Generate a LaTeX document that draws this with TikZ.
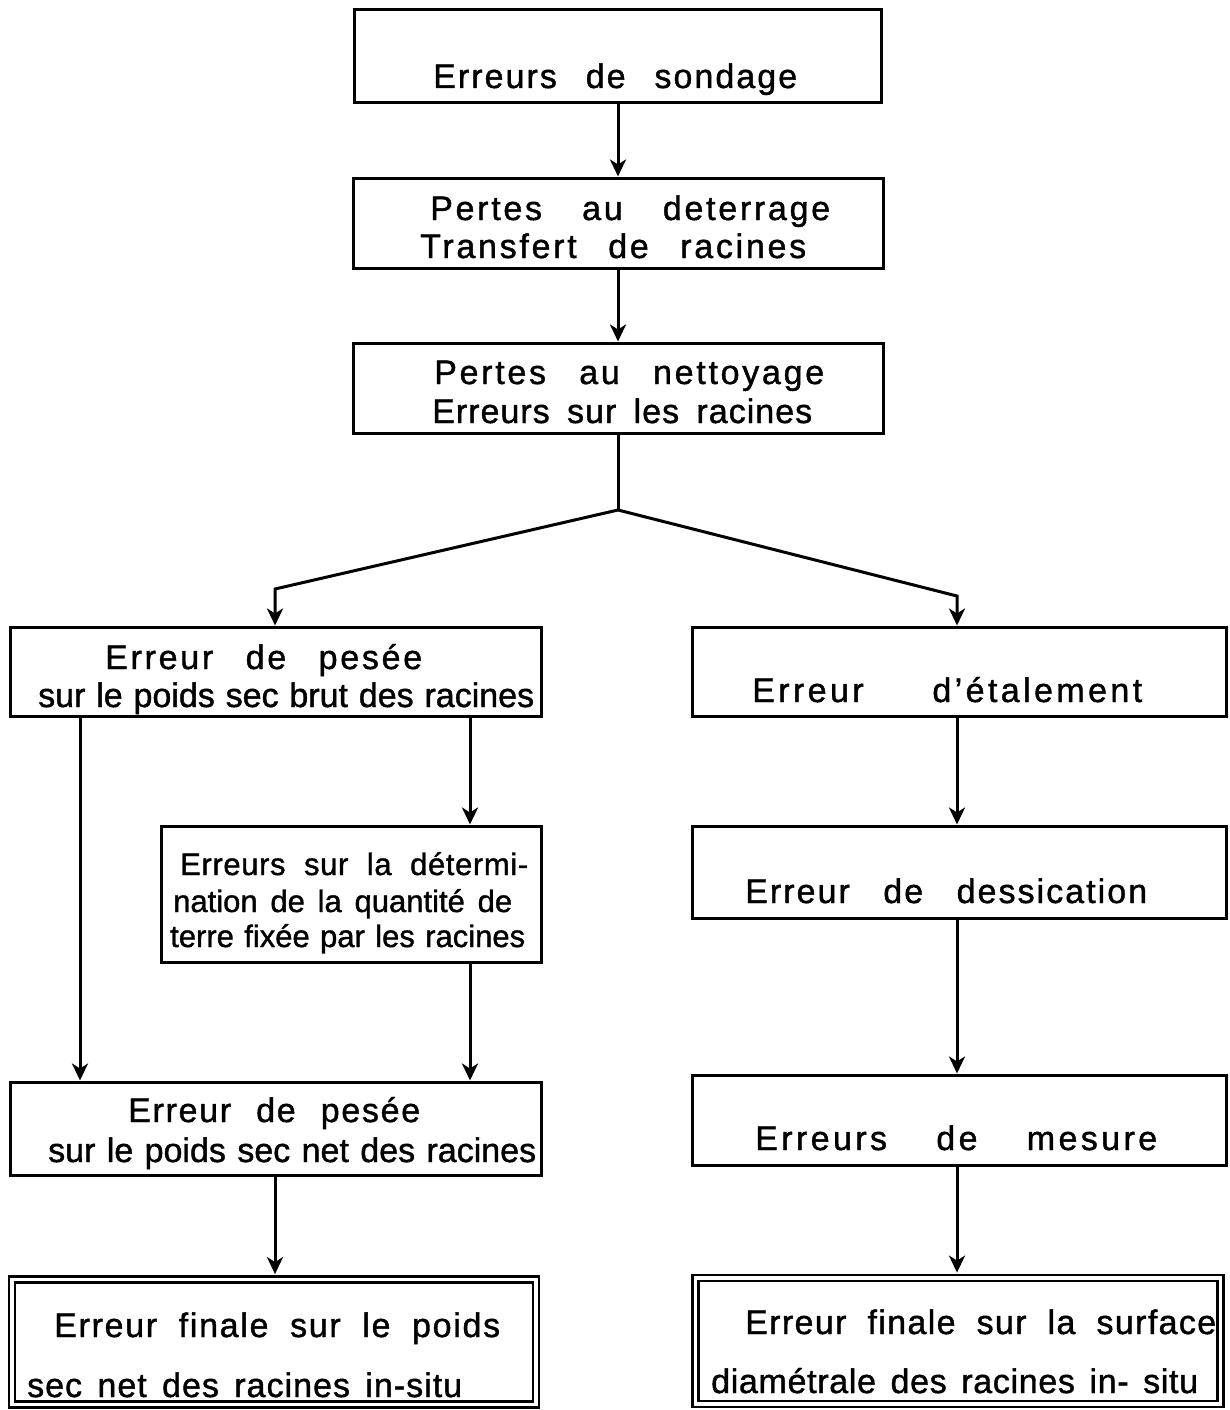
\documentclass[tikz,border=0pt]{standalone}
\usepackage{fontspec}
\setmainfont[FakeBold=1.2]{Liberation Sans}
\usetikzlibrary{arrows.meta}
\newcommand{\spreadtxt}[3]{\makebox[#1][s]{\addfontfeatures{LetterSpace=#2}#3}}
\begin{document}
\begin{tikzpicture}[x=1pt,y=-1pt,
  box/.style={draw,line width=3pt,inner sep=0pt},
  dbox/.style={draw,line width=2.8pt,double,double distance=3.2pt,inner sep=0pt},
  txt/.style={anchor=base west,inner sep=0pt,font=\fontsize{34}{40}\selectfont},
  txts/.style={anchor=base west,inner sep=0pt,font=\fontsize{31}{36}\selectfont},
  ln/.style={line width=3pt},
  arr/.style={line width=3pt,-{Stealth[length=17pt,width=16pt,inset=5pt]}}]
\useasboundingbox (0,0) rectangle (1229,1410);
% boxes
\node[box,minimum width=527pt,minimum height=93pt] (b1) at (618,56.5) {};
\node[box,minimum width=530pt,minimum height=90pt] (b2) at (618,223) {};
\node[box,minimum width=530pt,minimum height=90pt] (b3) at (618,388) {};
\node[box,minimum width=531pt,minimum height=89pt] (b4) at (275.5,671.5) {};
\node[box,minimum width=534pt,minimum height=89pt] (b5) at (959,671.5) {};
\node[box,minimum width=380pt,minimum height=136pt] (b6) at (351,894) {};
\node[box,minimum width=534pt,minimum height=92pt] (b7) at (959,872) {};
\node[box,minimum width=531pt,minimum height=93pt] (b8) at (275.5,1128.5) {};
\node[box,minimum width=534pt,minimum height=90pt] (b9) at (959,1120) {};
\node[dbox,minimum width=524pt,minimum height=125pt] (b10) at (274,1342) {};
\node[dbox,minimum width=525pt,minimum height=126pt] (b11) at (958,1341) {};
% texts
\node[txt] (t1) at (433,88) {\spreadtxt{364pt}{6}{Erreurs de sondage}};
\node[txt] (t2a) at (430,220) {\spreadtxt{400pt}{8}{Pertes au deterrage}};
\node[txt] (t2b) at (420,258) {\spreadtxt{386pt}{8}{Transfert de racines}};
\node[txt] (t3a) at (434,384) {\spreadtxt{390pt}{8}{Pertes au nettoyage}};
\node[txt] (t3b) at (432,423) {\spreadtxt{380pt}{3}{Erreurs sur les racines}};
\node[txt] (t4a) at (105,669) {\spreadtxt{317pt}{8}{Erreur de pesée}};
\node[txt] (t4b) at (38,707) {\spreadtxt{496pt}{0}{sur le poids sec brut des racines}};
\node[txt] (t5) at (752,702) {\spreadtxt{390pt}{10}{Erreur d'étalement}};
\node[txts] (t6a) at (180,875) {\spreadtxt{348pt}{2}{Erreurs sur la détermi-}};
\node[txts] (t6b) at (173,912) {\spreadtxt{339pt}{0}{nation de la quantité de}};
\node[txts] (t6c) at (170,947) {\spreadtxt{355pt}{0}{terre fixée par les racines}};
\node[txt] (t7) at (745,903) {\spreadtxt{402pt}{6}{Erreur de dessication}};
\node[txt] (t8a) at (128,1122) {\spreadtxt{292pt}{5}{Erreur de pesée}};
\node[txt] (t8b) at (48,1162) {\spreadtxt{488pt}{0}{sur le poids sec net des racines}};
\node[txt] (t9) at (755,1150) {\spreadtxt{402pt}{10}{Erreurs de mesure}};
\node[txt] (t10a) at (54,1337) {\spreadtxt{446pt}{5}{Erreur finale sur le poids}};
\node[txt] (t10b) at (27,1397) {\spreadtxt{435pt}{3}{sec net des racines in-situ}};
\node[txt] (t11a) at (745,1334) {\spreadtxt{471pt}{4}{Erreur finale sur la surface}};
\node[txt] (t11b) at (711,1393) {\spreadtxt{487pt}{2}{diamétrale des racines in- situ}};
% connector points
\coordinate (j) at (618,510);
\coordinate (jl) at (275,589);
\coordinate (jr) at (957,596);
\coordinate (xa) at (80,0);
\coordinate (xb) at (470,0);
\coordinate (xc) at (957,0);
% connectors
\draw[arr] (b1.south) -- (b2.north);
\draw[arr] (b2.south) -- (b3.north);
\draw[ln] (b3.south) -- (j);
\draw[arr] (j) -- (jl) -- (jl |- b4.north);
\draw[arr] (j) -- (jr) -- (jr |- b5.north);
\draw[arr] (b4.south -| xa) -- (b8.north -| xa);
\draw[arr] (b4.south -| xb) -- (b6.north -| xb);
\draw[arr] (b6.south -| xb) -- (b8.north -| xb);
\draw[arr,shorten >=4pt] (b8.south -| jl) -- (b10.north -| jl);
\draw[arr] (b5.south -| xc) -- (b7.north -| xc);
\draw[arr] (b7.south -| xc) -- (b9.north -| xc);
\draw[arr,shorten >=4pt] (b9.south -| xc) -- (b11.north -| xc);
\end{tikzpicture}
\end{document}
